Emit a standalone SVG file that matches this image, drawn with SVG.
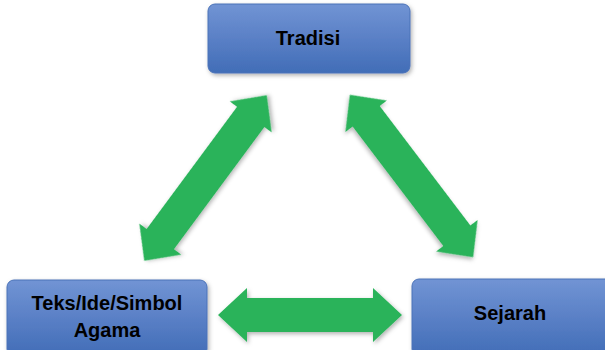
<svg xmlns="http://www.w3.org/2000/svg" width="605" height="350" viewBox="0 0 605 350">
<defs>
<linearGradient id="boxg" x1="0" y1="0" x2="0" y2="1">
<stop offset="0" stop-color="#7194d4"/>
<stop offset="0.5" stop-color="#5a80c6"/>
<stop offset="1" stop-color="#416db7"/>
</linearGradient>
<filter id="sh" x="-20%" y="-20%" width="140%" height="140%">
<feDropShadow dx="1.5" dy="2" stdDeviation="2" flood-color="#000" flood-opacity="0.3"/>
</filter>
</defs>
<style>
.box{fill:url(#boxg);stroke:#4a72b8;stroke-width:1;filter:url(#sh)}
.lbl{font-family:"Liberation Sans",Arial,sans-serif;font-weight:bold;font-size:20px;fill:#000;text-anchor:middle}
.arr{fill:#2ab35a;filter:url(#sh)}
</style>
<rect width="605" height="350" fill="#fff"/>
<g id="connectors">
<polygon class="arr" transform="translate(205.5,178) rotate(-53.5)" points="-103,0 -76,-26 -76,-17 76,-17 76,-26 103,0 76,26 76,17 -76,17 -76,26"/>
<polygon class="arr" transform="translate(411.5,176) rotate(52.8)" points="-102,0 -75,-26 -75,-17 75,-17 75,-26 102,0 75,26 75,17 -75,17 -75,26"/>
<polygon class="arr" transform="translate(310,315)" points="-92,0 -63,-27 -63,-17 63,-17 63,-27 92,0 63,27 63,17 -63,17 -63,27"/>
</g>
<g id="tradisi">
<rect class="box" x="208" y="4" width="202" height="69" rx="7"/>
<text class="lbl" x="308" y="45">Tradisi</text>
</g>
<g id="teks">
<rect class="box" x="7" y="280" width="200" height="76" rx="7"/>
<text class="lbl" x="107" y="310">Teks/Ide/Simbol</text>
<text class="lbl" x="107" y="337">Agama</text>
</g>
<g id="sejarah">
<rect class="box" x="412" y="279" width="200" height="77" rx="7"/>
<text class="lbl" x="510" y="320">Sejarah</text>
</g>
</svg>
